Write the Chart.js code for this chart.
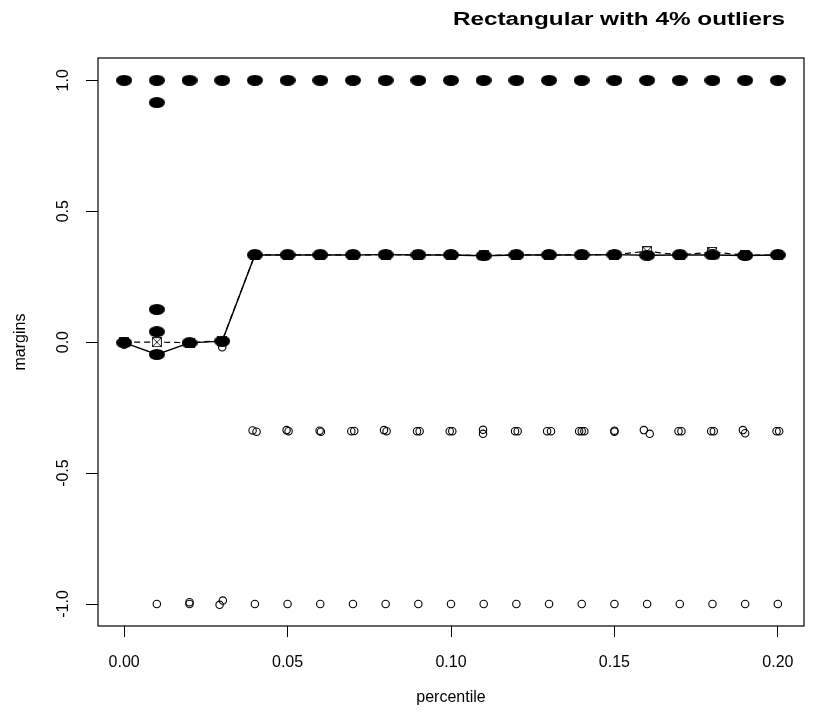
<!DOCTYPE html>
<html>
<head>
<meta charset="utf-8">
<script src="https://cdn.jsdelivr.net/npm/chart.js@4.4.0/dist/chart.umd.min.js"></script>
<style>
  html, body { margin: 0; padding: 0; background: #fff; }
  #wrap { width: 819px; height: 721px; }
</style>
</head>
<body>
<div id="wrap"><canvas id="marginChart" width="819" height="721"></canvas></div>
<script>
const chartTitle = 'Rectangular with 4% outliers';
const xTitle = 'percentile';
const yTitle = 'margins';
const xTicks = [0, 0.05, 0.10, 0.15, 0.20];
const yTicks = [-1.0, -0.5, 0.0, 0.5, 1.0];

const percentiles = [0, 0.01, 0.02, 0.03, 0.04, 0.05, 0.06, 0.07, 0.08, 0.09, 0.10,
                     0.11, 0.12, 0.13, 0.14, 0.15, 0.16, 0.17, 0.18, 0.19, 0.20];

// solid line, filled markers
const solidMargins = [-0.002, -0.047, -0.003, 0.004, 0.333, 0.333, 0.333, 0.333, 0.334, 0.333, 0.333,
                      0.330, 0.333, 0.333, 0.333, 0.334, 0.332, 0.333, 0.333, 0.331, 0.333];
// dashed line, crossed squares
const dashedMargins = [0.0, 0.0, -0.002, 0.006, 0.333, 0.333, 0.333, 0.333, 0.334, 0.333, 0.333,
                       0.331, 0.333, 0.333, 0.333, 0.334, 0.347, 0.333, 0.344, 0.332, 0.333];
// top row of filled markers
const upperMargins = [1.0, 1.0, 1.0, 1.0, 1.0, 1.0, 1.0, 1.0, 1.0, 1.0, 1.0,
                      1.0, 1.0, 1.0, 1.0, 1.0, 1.0, 1.0, 1.0, 1.0, 1.0];
const extraX = [0.01, 0.01, 0.01];
const extraY = [0.915, 0.125, 0.04];

// open circles
const circleX = [0.0, 0.03,
  0.0393, 0.0405, 0.0497, 0.0503, 0.0598, 0.0602, 0.0695, 0.0704, 0.0795, 0.0803,
  0.0896, 0.0904, 0.0996, 0.1004, 0.1098, 0.1098, 0.1196, 0.1204, 0.1294, 0.1306,
  0.1392, 0.1400, 0.1408, 0.1500, 0.1500, 0.1590, 0.1608, 0.1696, 0.1705, 0.1796, 0.1804,
  0.1893, 0.1900, 0.1996, 0.2004,
  0.01, 0.02, 0.02, 0.0292, 0.0302, 0.04, 0.05, 0.06, 0.07, 0.08, 0.09, 0.10,
  0.11, 0.12, 0.13, 0.14, 0.15, 0.16, 0.17, 0.18, 0.19, 0.20];
const circleY = [-0.010, -0.020,
  -0.337, -0.342, -0.336, -0.340, -0.338, -0.342, -0.340, -0.339, -0.336, -0.340,
  -0.340, -0.340, -0.340, -0.340, -0.335, -0.350, -0.340, -0.340, -0.340, -0.340,
  -0.340, -0.340, -0.340, -0.338, -0.342, -0.336, -0.350, -0.340, -0.340, -0.340, -0.340,
  -0.336, -0.348, -0.340, -0.340,
  -1.0, -1.0, -0.993, -1.003, -0.987, -1.0, -1.0, -1.0, -1.0, -1.0, -1.0, -1.0,
  -1.0, -1.0, -1.0, -1.0, -1.0, -1.0, -1.0, -1.0, -1.0, -1.0];

const family = '"Liberation Sans", Arial, sans-serif';

function makeBlob(w, h) {
    const c = document.createElement('canvas');
    c.width = w; c.height = h;
    const g = c.getContext('2d');
    g.fillStyle = '#000';
    g.beginPath();
    g.ellipse(w / 2, h / 2, w / 2, h / 2, 0, 0, Math.PI * 2);
    g.fill();
    return c;
}

function makeCrossBox(s) {
    const c = document.createElement('canvas');
    c.width = s; c.height = s;
    const g = c.getContext('2d');
    g.fillStyle = '#fff';
    g.fillRect(0, 0, s, s);
    g.strokeStyle = '#222';
    g.lineWidth = 1;
    g.strokeRect(0.5, 0.5, s - 1, s - 1);
    g.beginPath();
    g.moveTo(1, 1); g.lineTo(s - 1, s - 1);
    g.moveTo(s - 1, 1); g.lineTo(1, s - 1);
    g.stroke();
    return c;
}

const blob = makeBlob(16, 11);
const crossBox = makeCrossBox(10);

const toPoints = (xs, ys) => xs.map((x, i) => ({ x: x, y: ys[i] }));

// ---------------- frame + title ----------------
const framePlugin = {
    id: 'frame',
    afterDraw(chart) {
        const { ctx, chartArea: a } = chart;
        ctx.save();
        ctx.strokeStyle = '#000';
        ctx.lineWidth = 1.2;
        ctx.strokeRect(a.left, a.top, a.right - a.left, a.bottom - a.top);
        ctx.fillStyle = '#000';
        ctx.font = 'bold 18px ' + family;
        ctx.textAlign = 'center';
        ctx.textBaseline = 'middle';
        ctx.translate(619, 20);
        ctx.scale(1.35, 1);
        ctx.fillText(chartTitle, 0, 0);
        ctx.restore();
    }
};

const ctx = document.getElementById('marginChart').getContext('2d');
new Chart(ctx, {
    type: 'scatter',
    data: {
        datasets: [
            {
                data: toPoints(percentiles, upperMargins).concat(toPoints(extraX, extraY)),
                pointStyle: blob, pointRadius: 5, showLine: false, order: 0
            },
            {
                data: toPoints(percentiles, solidMargins),
                showLine: true, borderColor: '#000', borderWidth: 1.4, fill: false,
                pointStyle: blob, pointRadius: 5, order: 1
            },
            {
                data: toPoints(percentiles, dashedMargins),
                showLine: true, borderColor: '#000', borderWidth: 1.2, borderDash: [6, 4], fill: false,
                pointStyle: crossBox, pointRadius: 5, order: 2
            },
            {
                data: toPoints(circleX, circleY),
                showLine: false, pointStyle: 'circle', pointRadius: 3.7, pointBorderWidth: 1.1,
                pointBorderColor: '#000', pointBackgroundColor: 'rgba(0,0,0,0)', order: 3
            }
        ]
    },
    options: {
        responsive: false,
        animation: false,
        layout: { padding: { top: 58, right: 15, left: 0, bottom: 0 } },
        plugins: { legend: { display: false }, tooltip: { enabled: false } },
        scales: {
            x: {
                type: 'linear', min: -0.008, max: 0.208,
                afterBuildTicks: s => { s.ticks = xTicks.map(v => ({ value: v })); },
                afterFit: s => { s.height = 95; },
                grid: { drawOnChartArea: false, tickLength: 11, color: '#000', lineWidth: 1 },
                border: { display: false },
                ticks: { color: '#000', font: { size: 16, family: family }, padding: 16,
                         maxRotation: 0, minRotation: 0, callback: v => v.toFixed(2) },
                title: { display: true, text: xTitle, color: '#000',
                         font: { size: 16, family: family }, padding: { bottom: 14 } }
            },
            y: {
                type: 'linear', min: -1.084, max: 1.085,
                afterBuildTicks: s => { s.ticks = yTicks.map(v => ({ value: v })); },
                afterFit: s => { s.width = 98; },
                grid: { drawOnChartArea: false, tickLength: 12, color: '#000', lineWidth: 1 },
                border: { display: false },
                ticks: { color: '#000', font: { size: 16, family: family }, padding: 9,
                         minRotation: 90, maxRotation: 90, crossAlign: 'center',
                         callback: v => v.toFixed(1) },
                title: { display: true, text: yTitle, color: '#000',
                         font: { size: 16, family: family }, padding: { top: 11 } }
            }
        }
    },
    plugins: [framePlugin]
});
</script>
</body>
</html>
